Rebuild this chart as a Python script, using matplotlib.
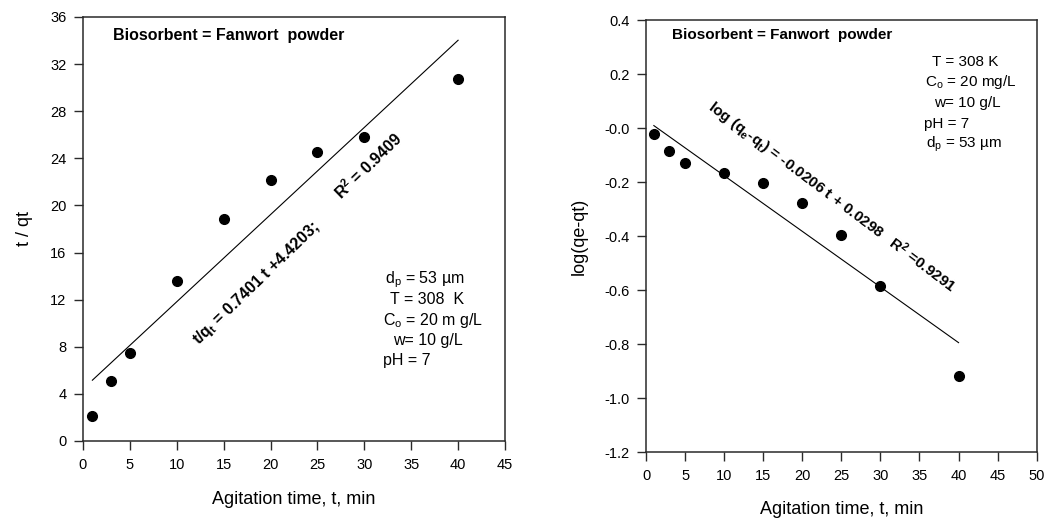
import numpy as np
import matplotlib
matplotlib.use("Agg")
import matplotlib.pyplot as plt

plt.rcParams['font.family'] = ['Liberation Sans', 'DejaVu Sans']
plt.rcParams['mathtext.fontset'] = 'custom'
plt.rcParams['mathtext.rm'] = 'Liberation Sans'
plt.rcParams['mathtext.it'] = 'Liberation Sans'
plt.rcParams['mathtext.bf'] = 'Liberation Sans:bold'

# Agitation times (min)
t_min = [1, 3, 5, 10, 15, 20, 25, 30, 40]

# Pseudo-second-order: t/qt
t_over_qt = [2.15, 5.1, 7.5, 13.6, 18.85, 22.2, 24.55, 25.8, 30.7]
slope2, icpt2 = 0.7401, 4.4203

# Pseudo-first-order: log(qe-qt)
log_qe_qt = [-0.022, -0.085, -0.128, -0.165, -0.204, -0.278, -0.395, -0.583, -0.918]
slope1, icpt1 = -0.0206, 0.0298

left_xticks = np.arange(0, 46, 5)
left_yticks = np.arange(0, 37, 4)
right_xticks = np.arange(0, 51, 5)
right_yticks = np.round(np.arange(-1.2, 0.41, 0.2), 1)

left_params = ["d$_\\mathrm{p}$ = 53 \u00b5m", "T = 308  K", "C$_\\mathrm{o}$ = 20 m g/L", "w= 10 g/L", "pH = 7"]
right_params = ["T = 308 K", "C$_\\mathrm{o}$ = 20 mg/L", "w= 10 g/L", "pH = 7", "d$_\\mathrm{p}$ = 53 \u00b5m"]

fig = plt.figure(figsize=(10.44, 5.21), dpi=100)
ax1 = fig.add_axes([0.0795, 0.1536, 0.4042, 0.8138])
ax2 = fig.add_axes([0.6188, 0.1319, 0.3742, 0.8297])


def style(ax):
    for s in ax.spines.values():
        s.set_linewidth(1.1)
        s.set_color('#2a2a2a')
    ax.tick_params(direction='out', length=6.5, width=1.0, labelsize=10.5,
                   top=False, right=False, color='#2a2a2a', pad=5.5)


# left panel: t/qt vs t
tt = np.array([t_min[0], t_min[-1]])
ax1.plot(tt, slope2 * tt + icpt2, color='black', lw=0.8)
ax1.plot(t_min, t_over_qt, 'o', color='black', ms=7)
ax1.set_xlim(0, 45)
ax1.set_ylim(0, 36)
ax1.set_xticks(left_xticks)
ax1.set_yticks(left_yticks)
style(ax1)
ax1.set_xlabel("Agitation time, t, min", fontsize=13, labelpad=14)
ax1.set_ylabel("t / qt", fontsize=13, labelpad=12)
ax1.text(3.2, 34.43, "Biosorbent = Fanwort  powder", fontsize=11.5, fontweight='bold', va='center')
ax1.text(18.45, 13.4, "t/q$_\\mathbf{t}$ = 0.7401 t +4.4203;", fontsize=11.5, fontweight='bold',
         rotation=44, ha='center', va='center', rotation_mode='anchor')
ax1.text(30.4, 23.4, "R$^\\mathbf{2}$ = 0.9409", fontsize=11.5, fontweight='bold',
         rotation=44, ha='center', va='center', rotation_mode='anchor')
for x, (i, s) in zip([32.2, 32.74, 32.0, 33.06, 32.0], enumerate(left_params)):
    ax1.text(x, 13.67 - i * 1.70, s, fontsize=11.5, va='center')

# right panel: log(qe-qt) vs t
ax2.plot(tt, slope1 * tt + icpt1, color='black', lw=0.8)
ax2.plot(t_min, log_qe_qt, 'o', color='black', ms=7)
ax2.set_xlim(0, 50)
ax2.set_ylim(-1.2, 0.4)
ax2.set_xticks(right_xticks)
ax2.set_yticks(right_yticks)
ax2.set_yticklabels([f"{v:.1f}" for v in right_yticks])
style(ax2)
ax2.set_xlabel("Agitation time, t, min", fontsize=13, labelpad=13)
ax2.set_ylabel("log(qe-qt)", fontsize=13, labelpad=12)
ax2.text(3.29, 0.343, "Biosorbent = Fanwort  powder", fontsize=11, fontweight='bold', va='center')
ax2.text(23.8, -0.255, "log (q$_\\mathbf{e}$-q$_\\mathbf{t}$) = -0.0206 t + 0.0298   R$^\\mathbf{2}$ =0.9291",
         fontsize=11, fontweight='bold', rotation=-37, ha='center', va='center',
         rotation_mode='anchor')
for x, (i, s) in zip([36.6, 35.7, 36.86, 35.58, 35.83], enumerate(right_params)):
    ax2.text(x, 0.2446 - i * 0.0759, s, fontsize=11, va='center')

fig.savefig("out.png", dpi=100)
